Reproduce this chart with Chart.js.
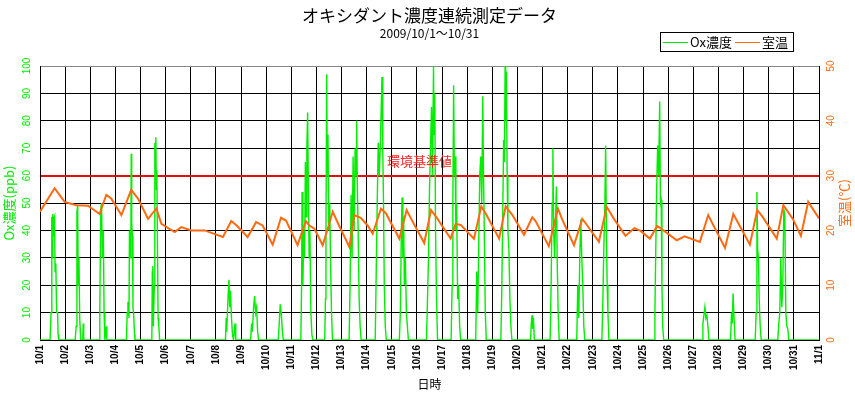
<!DOCTYPE html>
<html>
<head>
<meta charset="utf-8">
<script src="https://cdn.jsdelivr.net/npm/chart.js@4/dist/chart.umd.min.js"></script>
<style>body{margin:0;background:#fff}</style>
</head>
<body>
<canvas id="oxChart" width="855" height="399"></canvas>
<script>
// chart texts
const titleText = 'オキシダント濃度連続測定データ';
const subtitleText = '2009/10/1～10/31';
const oxLabel = 'Ox濃度';
const tempLabel = '室温';
const limitLabel = '環境基準値';
const limitValue = 60;

// x tick labels (one per day, day 0 = 10/1 0:00)
const dayLabels = ['10/1','10/2','10/3','10/4','10/5','10/6','10/7','10/8','10/9','10/10',
  '10/11','10/12','10/13','10/14','10/15','10/16','10/17','10/18','10/19','10/20',
  '10/21','10/22','10/23','10/24','10/25','10/26','10/27','10/28','10/29','10/30','10/31','11/1'];

// Ox (ppb): time in days since 10/1 0:00
const oxTime = [0,
  0.40,0.44,0.47,0.49,0.51,0.53,0.55,0.58,0.60,0.63,0.66,0.70,0.72,0.75,
  1.40,1.44,1.47,1.50,1.52,1.55,1.58,1.62,1.70,1.72,1.74,
  2.35,2.38,2.42,2.45,2.48,2.52,2.55,2.58,2.64,2.66,
  3.44,3.47,3.50,3.54,3.56,3.59,3.62,3.63,3.65,3.68,3.70,3.73,3.76,3.78,
  4.45,4.47,4.49,4.51,4.55,4.57,4.59,4.61,4.63,4.65,4.67,4.70,4.73,4.76,
  7.38,7.41,7.43,7.48,7.52,7.55,7.58,7.62,7.66,7.70,7.76,7.79,
  8.38,8.42,8.45,8.50,8.54,8.58,8.62,8.66,8.70,
  9.48,9.52,9.56,9.60,9.64,9.68,
  10.38,10.41,10.43,10.46,10.50,10.53,10.56,10.59,10.62,10.65,10.68,10.71,10.74,10.78,10.82,10.86,
  11.33,11.36,11.38,11.41,11.43,11.46,11.49,11.53,11.56,11.60,11.64,
  12.30,12.34,12.38,12.42,12.46,12.50,12.54,12.58,12.60,12.63,12.66,12.70,12.74,12.78,
  13.34,13.38,13.42,13.46,13.50,13.54,13.58,13.61,13.64,13.67,13.70,13.74,13.78,
  14.30,14.34,14.38,14.41,14.44,14.47,14.50,14.54,14.58,14.62,14.66,
  15.38,15.42,15.46,15.50,15.54,15.58,15.62,15.66,15.68,15.71,15.74,15.78,15.82,
  16.36,16.40,16.43,16.46,16.49,16.52,16.55,16.58,16.62,16.66,16.70,16.74,
  17.34,17.38,17.42,17.46,17.50,17.54,17.58,17.62,17.65,17.68,17.72,17.76,
  18.34,18.38,18.42,18.45,18.48,18.51,18.53,18.56,18.59,18.62,18.66,18.70,18.74,18.78,
  19.52,19.55,19.58,19.61,19.64,19.67,
  20.30,20.34,20.38,20.41,20.44,20.48,20.52,20.55,20.58,20.62,20.66,
  21.36,21.40,21.44,21.48,21.52,21.56,21.60,21.64,21.68,
  22.36,22.40,22.44,22.48,22.51,22.54,22.57,22.60,22.64,
  24.44,24.47,24.50,24.54,24.58,24.62,24.66,24.69,24.72,24.75,24.78,24.82,
  26.35,26.38,26.42,26.46,26.50,26.54,26.58,26.62,
  27.48,27.52,27.55,27.58,27.62,27.66,
  28.46,28.50,28.53,28.56,28.59,28.62,28.66,28.70,
  29.36,29.40,29.44,29.48,29.52,29.56,29.60,29.64,29.68,29.72,29.76,29.80,
  31];
const oxPpb = [0,
  0,10,45,30,46,38,44,45,25,28,10,10,2,0,
  0,5,47,49,20,30,8,0,0,6,0,
  0,12,48,50,30,40,10,0,5,0,
  0,10,14,8,40,30,45,68,42,38,12,9,2,0,
  0,25,27,5,20,72,65,74,55,62,40,8,5,0,
  0,8,3,15,22,12,18,8,2,0,6,0,
  0,6,3,12,16,10,12,3,0,
  0,6,13,10,4,0,
  0,20,54,20,40,30,65,45,70,83,55,30,40,10,2,0,
  0,15,40,97,60,75,40,50,30,10,0,
  0,20,53,30,67,40,70,60,80,55,40,15,5,0,
  0,25,50,72,60,70,85,96,70,50,20,5,0,
  0,10,40,52,30,45,20,30,10,5,0,
  0,15,30,55,70,85,60,100,75,90,40,15,0,
  0,20,50,93,60,67,40,50,15,20,5,0,
  0,25,10,35,60,67,50,89,60,40,10,0,
  0,20,50,73,65,100,80,98,60,40,33,15,5,0,
  0,6,9,4,8,0,
  0,20,50,70,40,30,45,56,30,10,0,
  0,20,8,30,44,30,20,5,0,
  0,15,35,50,71,40,20,10,0,
  0,10,30,55,71,60,87,50,51,20,5,0,
  0,6,9,12,8,9,5,0,
  0,10,6,17,8,0,
  0,10,54,33,30,15,5,0,
  0,6,10,30,12,20,48,45,10,5,4,0,
  0];

// room temperature (°C), turning points
const tempTime = [0,0.58,0.98,1.45,1.91,2.37,2.64,2.84,3.24,3.63,3.90,4.30,4.63,4.83,5.36,5.62,6.02,6.55,
  7.28,7.61,7.85,8.26,8.60,8.86,9.26,9.59,9.79,10.25,10.58,10.72,10.92,11.25,11.65,11.90,
  12.31,12.51,12.76,13.04,13.24,13.57,13.77,14.30,14.59,14.76,15.29,15.56,15.76,16.34,16.54,16.74,
  17.27,17.56,17.77,18.27,18.53,18.80,19.26,19.59,19.72,20.25,20.61,20.78,21.25,21.58,21.78,
  22.24,22.55,22.84,23.30,23.65,23.90,24.27,24.56,24.81,25.34,25.65,26.26,26.59,27.26,27.59,
  28.25,28.54,28.75,29.32,29.58,29.96,30.28,30.57,31];
const tempC = [23.4,27.7,25.2,24.6,24.5,23.0,26.5,25.8,22.8,27.4,25.8,22.1,24.0,21.2,19.7,20.6,20.0,20.0,
  18.8,21.7,20.8,18.8,21.5,20.9,17.4,22.3,21.8,17.3,21.7,20.9,20.3,17.3,23.4,20.9,
  17.0,22.8,22.3,20.9,19.4,24.0,23.1,18.5,23.7,22.2,17.7,23.7,22.5,18.5,21.2,21.0,
  18.5,24.4,22.8,18.5,24.4,22.8,19.2,22.4,21.7,17.1,24.0,22.0,17.3,22.1,20.9,
  17.9,24.3,22.1,19.0,20.4,19.9,18.5,20.8,20.0,18.2,18.9,17.9,22.8,16.8,23.0,
  17.4,23.7,22.5,18.5,24.6,22.1,19.0,25.2,22.2];

const oxColor = '#00ee00';
const tempColor = '#ff6a10';
const jpFont = '"Noto Sans CJK JP", sans-serif';
const numFont = '"Liberation Sans", Arial, sans-serif';

// limit label, right axis title and the boxed legend
const extras = {
  id: 'extras',
  afterDraw(chart) {
    const c = chart.ctx;
    const xs = chart.scales.x, ys = chart.scales.y;
    const area = chart.chartArea;
    c.save();
    c.fillStyle = '#ff2020';
    c.font = '13px ' + jpFont;
    c.textAlign = 'center';
    c.textBaseline = 'middle';
    c.fillText(limitLabel, xs.getPixelForValue(15.1), ys.getPixelForValue(limitValue) - 15);

    c.save();
    c.translate(844, (area.top + area.bottom) / 2);
    c.rotate(-Math.PI / 2);
    c.fillStyle = tempColor;
    c.font = '13px ' + jpFont;
    c.fillText('室温(℃)', 0, 0);
    c.restore();

    // legend box
    c.strokeStyle = '#000';
    c.lineWidth = 1;
    c.strokeRect(660.5, 32.5, 133, 19);
    c.textAlign = 'left';
    c.fillStyle = '#000';
    c.font = '13px ' + jpFont;
    let lx = 663;
    chart.data.datasets.forEach(ds => {
      c.strokeStyle = ds.borderColor;
      c.beginPath();
      c.moveTo(lx, 42.5);
      c.lineTo(lx + 25, 42.5);
      c.stroke();
      c.fillText(ds.label, lx + 27, 42);
      lx += 72;
    });
    c.restore();
  }
};

const ctx = document.getElementById('oxChart');
const config = {
  type: 'line',
  data: {
    datasets: [
      {
        label: oxLabel,
        data: oxTime.map((t, i) => ({x: t, y: oxPpb[i]})),
        borderColor: oxColor,
        borderWidth: 1.4,
        pointRadius: 0,
        yAxisID: 'y',
        order: 2
      },
      {
        label: tempLabel,
        data: tempTime.map((t, i) => ({x: t, y: tempC[i]})),
        borderColor: tempColor,
        borderWidth: 2,
        pointRadius: 0,
        yAxisID: 'y2',
        order: 1
      }
    ]
  },
  options: {
    responsive: false,
    animation: false,
    devicePixelRatio: 1,
    layout: { padding: 0 },
    plugins: {
      legend: { display: false },
      tooltip: { enabled: false },
      title: {
        display: true,
        fullSize: false,
        text: titleText,
        color: '#000',
        font: { family: jpFont, size: 17, weight: 'normal' },
        padding: { top: 5.5, bottom: 0 }
      },
      subtitle: {
        display: true,
        fullSize: false,
        text: subtitleText,
        color: '#000',
        font: { family: jpFont, size: 12 },
        padding: { top: 0, bottom: 25.7 }
      }
    },
    scales: {
      x: {
        type: 'linear',
        min: 0,
        max: 31,
        afterFit: s => { s.height = 59; },
        grid: { color: '#000', drawTicks: false },
        border: { color: '#000' },
        ticks: {
          stepSize: 1,
          autoSkip: false,
          minRotation: 90,
          maxRotation: 90,
          padding: 5,
          color: '#000',
          font: { family: numFont, size: 10, weight: 'bold' },
          callback: v => dayLabels[Math.round(v)]
        },
        title: {
          display: true,
          text: '日時',
          color: '#000',
          font: { family: jpFont, size: 12 },
          padding: { top: 0, bottom: 7 }
        }
      },
      y: {
        position: 'left',
        min: 0,
        max: 100,
        afterFit: s => { s.width = 40; },
        grid: {
          drawTicks: false,
          color: c => c.tick.value === 100 ? '#888' : (c.tick.value === limitValue ? '#e01010' : '#000'),
          lineWidth: c => c.tick.value === limitValue ? 2 : 1
        },
        border: { color: '#000' },
        ticks: {
          stepSize: 10,
          minRotation: 90,
          maxRotation: 90,
          crossAlign: 'center',
          padding: 4,
          color: oxColor,
          font: { family: numFont, size: 10 }
        },
        title: {
          display: true,
          text: 'Ox濃度(ppb)',
          color: oxColor,
          font: { family: jpFont, size: 13 },
          padding: { top: 1, bottom: 0 }
        }
      },
      y2: {
        position: 'right',
        min: 0,
        max: 50,
        afterFit: s => { s.width = 36; },
        grid: { display: false, drawTicks: false },
        border: { color: '#000' },
        ticks: {
          stepSize: 10,
          minRotation: 90,
          maxRotation: 90,
          crossAlign: 'center',
          padding: 7,
          color: tempColor,
          font: { family: numFont, size: 10 }
        }
      }
    }
  },
  plugins: [extras]
};
const oxChart = new Chart(ctx, config);
</script>
</body>
</html>
